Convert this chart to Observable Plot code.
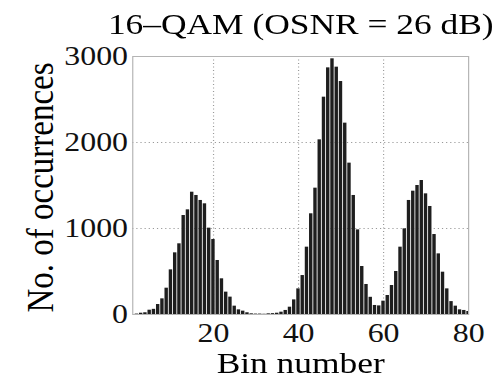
<!DOCTYPE html>
<html>
<head>
<meta charset="utf-8">
<script src="https://cdn.jsdelivr.net/npm/d3@7"></script>
<script src="https://cdn.jsdelivr.net/npm/@observablehq/plot@0.6"></script>
<style>
  html, body { margin: 0; padding: 0; background: #fff; }
  #wrap { width: 422px; height: 378px; transform: scaleX(1.1801); transform-origin: 0 0; }
</style>
</head>
<body>
<div id="wrap"></div>
<script>
const titleText = "16\u2013QAM (OSNR = 26 dB)";
const xLabel = "Bin number";
const yLabel = "No. of occurrences";
const xTicks = [20, 40, 60, 80];
const yTicks = [0, 1000, 2000, 3000];
const bins = [1,2,3,4,5,6,7,8,9,10,11,12,13,14,15,16,17,18,19,20,
  21,22,23,24,25,26,27,28,29,30,31,32,33,34,35,36,37,38,39,40,
  41,42,43,44,45,46,47,48,49,50,51,52,53,54,55,56,57,58,59,60,
  61,62,63,64,65,66,67,68,69,70,71,72,73,74,75,76,77,78,79,80];
const counts = [0,5,15,20,50,60,116,182,306,519,717,822,1151,1217,1422,1384,1326,1287,1004,872,
  628,415,260,202,97,54,39,20,8,5,5,3,8,10,15,27,47,85,170,298,
  453,783,1171,1469,2031,2527,2868,2973,2876,2709,2225,1760,1384,984,558,349,200,105,100,155,
  221,337,500,783,996,1326,1434,1500,1558,1403,1256,930,705,492,298,150,97,54,47,35];

const data = bins.map((b, i) => ({bin: b, count: counts[i]}));
const font = "'Liberation Serif', 'Times New Roman', serif";

const chart = Plot.plot({
  width: 422,
  height: 378,
  marginLeft: 112,
  marginRight: 25.4,
  marginTop: 56,
  marginBottom: 64,
  x: {domain: [1, 80]},
  y: {domain: [0, 3000]},
  style: {fontFamily: font, background: "#fff", color: "#111", overflow: "visible"},
  marks: [
    Plot.gridX(xTicks.slice(0, -1), {stroke: "#999", strokeOpacity: 1, strokeDasharray: "1,2.5"}),
    Plot.gridY(yTicks.slice(1, -1), {stroke: "#999", strokeOpacity: 1, strokeDasharray: "1,2.5"}),
    Plot.rectY(data, {x1: d => d.bin - 0.4, x2: d => d.bin + 0.4, y: "count", fill: "#1e1e1e", clip: true}),
    Plot.frame({stroke: "#b4b4b4"}),
    Plot.axisX(xTicks, {tickSize: 0, tickPadding: 8, fontSize: 27, label: null, fill: "#111"}),
    Plot.axisY(yTicks, {tickSize: 0, tickPadding: 4, fontSize: 27, label: null, tickFormat: d => String(d), fill: "#111"}),
    Plot.text([titleText], {text: d => d, frameAnchor: "top", textAnchor: "middle", lineAnchor: "middle", dy: -32, fontSize: 30, fill: "#000"}),
    Plot.text([xLabel], {text: d => d, frameAnchor: "bottom", textAnchor: "middle", lineAnchor: "middle", dy: 48.5, fontSize: 30, fill: "#000"}),
    Plot.text([yLabel], {text: d => d, frameAnchor: "left", textAnchor: "middle", lineAnchor: "middle", rotate: -90, dx: -78, dy: 2, fontSize: 33, fill: "#000"})
  ]
});
document.getElementById("wrap").appendChild(chart);
</script>
</body>
</html>
